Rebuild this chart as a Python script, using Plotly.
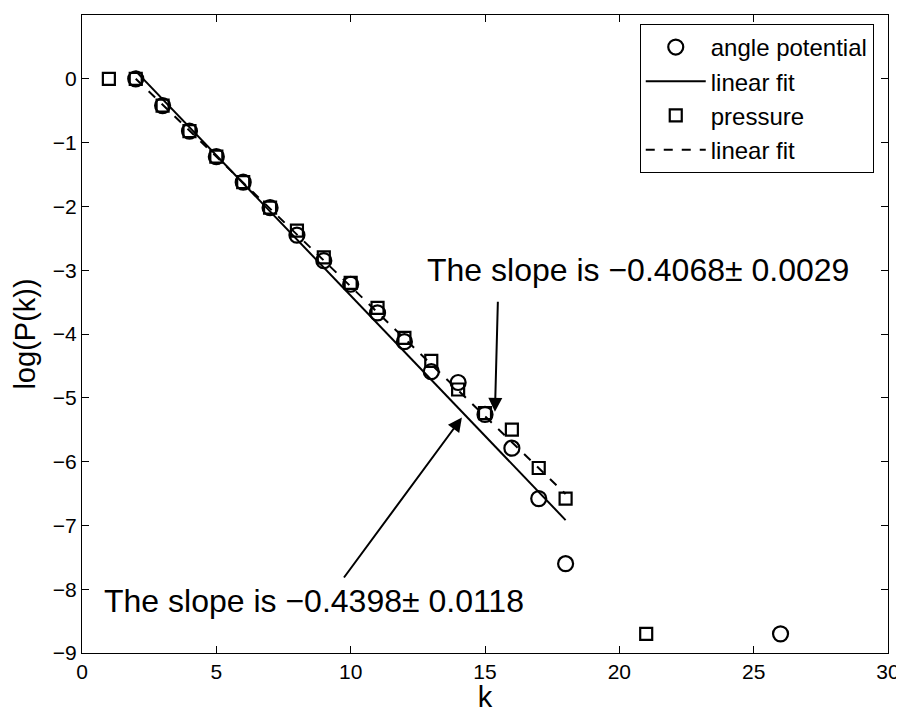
import plotly.graph_objects as go

# Data
k_angle = [2, 3, 4, 5, 6, 7, 8, 9, 10, 11, 12, 13, 14, 15, 16, 17, 18, 26]
logp_angle = [0.0, -0.42, -0.82, -1.22, -1.62, -2.02, -2.45, -2.85, -3.22, -3.67,
              -4.12, -4.59, -4.76, -5.26, -5.79, -6.58, -7.6, -8.7]

k_pressure = [1, 2, 3, 4, 5, 6, 7, 8, 9, 10, 11, 12, 13, 14, 15, 16, 17, 18, 21]
logp_pressure = [0.0, 0.0, -0.42, -0.82, -1.22, -1.62, -2.02, -2.38, -2.8, -3.2,
                 -3.59, -4.06, -4.42, -4.87, -5.24, -5.5, -6.1, -6.58, -8.7]

fit_k = [2, 18]
slope_angle, intercept_angle = -0.4398, 1.0
slope_pressure, intercept_pressure = -0.4068, 0.8136
fit_angle = [intercept_angle + slope_angle * k for k in fit_k]
fit_pressure = [intercept_pressure + slope_pressure * k for k in fit_k]

x_ticks = [0, 5, 10, 15, 20, 25, 30]
y_ticks = [-9, -8, -7, -6, -5, -4, -3, -2, -1, 0, 1]

FONT = "Liberation Sans, Arial, Helvetica, sans-serif"

fig = go.Figure()
fig.add_trace(go.Scatter(x=k_angle, y=logp_angle, mode="markers", name="angle potential",
                         marker=dict(symbol="circle-open", size=15, color="black",
                                     line=dict(width=2.2, color="black"))))
fig.add_trace(go.Scatter(x=fit_k, y=fit_angle, mode="lines", name="linear fit",
                         line=dict(color="black", width=2)))
fig.add_trace(go.Scatter(x=k_pressure, y=logp_pressure, mode="markers", name="pressure",
                         marker=dict(symbol="square-open", size=12, color="black",
                                     line=dict(width=2.2, color="black"))))
fig.add_trace(go.Scatter(x=fit_k, y=fit_pressure, mode="lines", name="linear fit ",
                         line=dict(color="black", width=2, dash="dash")))

# Annotations
fig.add_annotation(x=12.77, y=-3.0, xref="x", yref="y", text="The slope is \u22120.4068\u00b1 0.0029",
                   showarrow=False, xanchor="left", yanchor="middle",
                   font=dict(family=FONT, size=32, color="black"))
fig.add_annotation(x=0.74, y=-8.18, xref="x", yref="y", text="The slope is \u22120.4398\u00b1 0.0118",
                   showarrow=False, xanchor="left", yanchor="middle",
                   font=dict(family=FONT, size=32, color="black"))
fig.add_annotation(x=15.37, y=-5.22, ax=15.48, ay=-3.47, xref="x", yref="y",
                   axref="x", ayref="y", text="", showarrow=True,
                   arrowhead=2, arrowsize=1.4, arrowwidth=2, arrowcolor="black")
fig.add_annotation(x=14.14, y=-5.31, ax=9.71, ay=-7.84, xref="x", yref="y",
                   axref="x", ayref="y", text="", showarrow=True,
                   arrowhead=2, arrowsize=1.4, arrowwidth=2, arrowcolor="black")

axis_common = dict(showline=True, linecolor="black", linewidth=1, mirror="ticks",
                   ticks="inside", ticklen=7, tickwidth=1, tickcolor="black",
                   showgrid=False, zeroline=False, automargin=False,
                   tickfont=dict(family=FONT, size=21, color="black"))

fig.update_xaxes(range=[0, 30], tickvals=x_ticks,
                 title=dict(text="k", font=dict(family=FONT, size=29, color="black"), standoff=0),
                 **axis_common)
fig.update_yaxes(range=[-9, 1], tickvals=y_ticks,
                 title=dict(text="log(P(k))", font=dict(family=FONT, size=29, color="black"), standoff=8),
                 **axis_common)

# The page body adds an 8px offset; size the figure to fill the window.
fig.update_layout(
    width=896, height=705,
    margin=dict(l=74, r=16, t=7, b=60),
    paper_bgcolor="white", plot_bgcolor="white",
    font=dict(family=FONT, color="black"),
    legend=dict(x=0.692, y=0.986, xanchor="left", yanchor="top",
                bgcolor="white", bordercolor="black", borderwidth=1,
                font=dict(family=FONT, size=24, color="black"),
                itemwidth=60, tracegroupgap=0),
    showlegend=True,
)

fig.write_html("out.html")
